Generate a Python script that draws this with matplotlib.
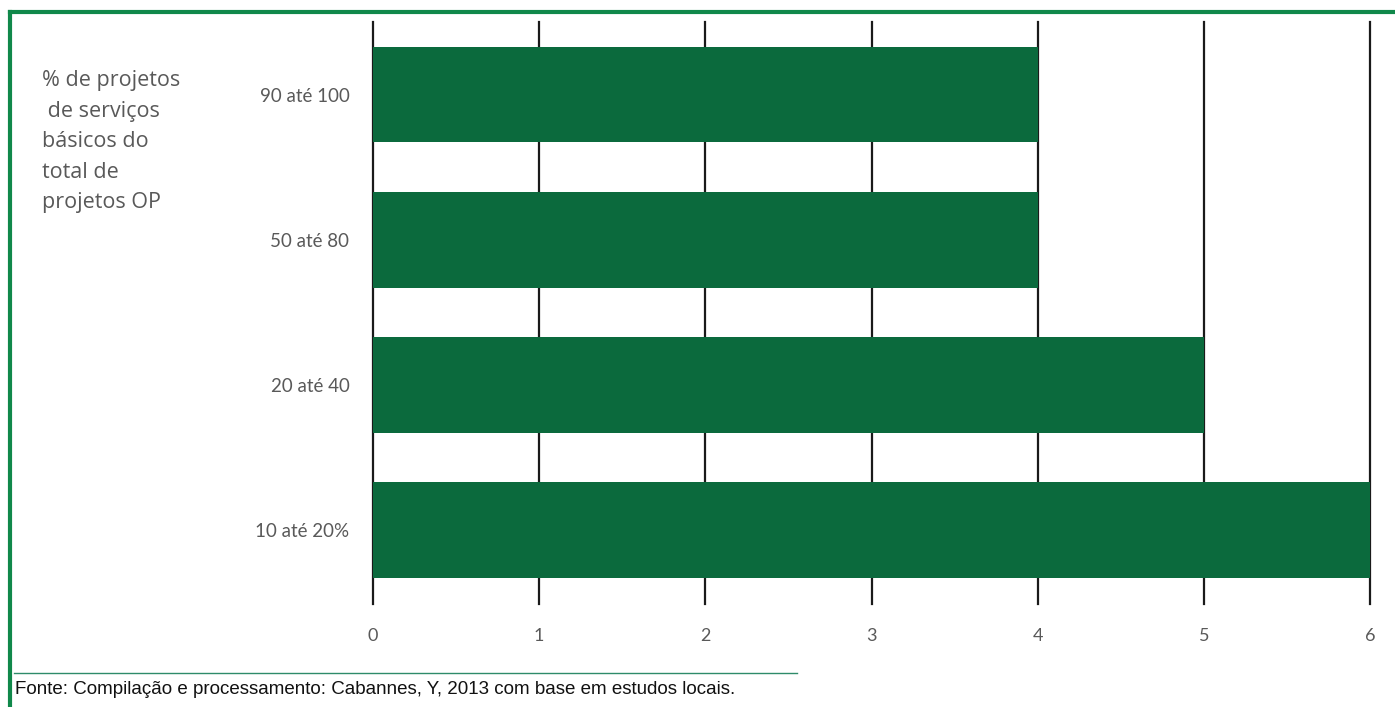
import matplotlib.pyplot as plt
from matplotlib.lines import Line2D

# Dados
categorias = ['10 até 20%', '20 até 40', '50 até 80', '90 até 100']
valores = [6, 5, 4, 4]
ticks_x = [0, 1, 2, 3, 4, 5, 6]

verde_barra = '#0B6A3D'
verde_borda = '#10884A'
cinza = '#595959'

plt.rcParams['font.family'] = ['Lato', 'DejaVu Sans']

fig = plt.figure(figsize=(13.95, 7.07), dpi=100)
W, H = 1395, 707
ax = fig.add_axes([373 / W, 1 - 604 / H, (1370 - 373) / W, (604 - 22) / H])

# grade vertical atrás das barras
for t in ticks_x:
    ax.axvline(t, color='#1a1a1a', linewidth=1.6, zorder=1, clip_on=False)

ax.barh(range(len(categorias)), valores, height=0.66, color=verde_barra, zorder=2)

ax.set_xlim(0, 6)
ax.set_ylim(-0.51, 3.5)
ax.set_xticks(ticks_x)
ax.set_xticklabels([str(t) for t in ticks_x], fontsize=13, color=cinza)
ax.set_yticks(range(len(categorias)))
ax.set_yticklabels(categorias, fontsize=13.5, color=cinza)
ax.tick_params(axis='both', length=0)
ax.tick_params(axis='x', pad=17)
ax.tick_params(axis='y', pad=17)

for s in ax.spines.values():
    s.set_visible(False)

# rótulo do eixo vertical
fig.text(42 / W, 1 - 70 / H,
         '% de projetos\n de serviços\nbásicos do\ntotal de\nprojetos OP',
         fontsize=15.5, color=cinza, va='top', ha='left', linespacing=1.6,
         family=['Open Sans', 'DejaVu Sans'])

# moldura verde (topo e esquerda)
fig.add_artist(Line2D([10 / W, 1], [1 - 12 / H, 1 - 12 / H], color=verde_borda, linewidth=3))
fig.add_artist(Line2D([10 / W, 10 / W], [0, 1 - 12 / H], color=verde_borda, linewidth=3))

# linha da fonte
fig.add_artist(Line2D([14 / W, 797 / W], [1 - 673 / H, 1 - 673 / H], color='#2E8B6A', linewidth=1))
fig.text(15 / W, 1 - 690 / H,
         'Fonte: Compilação e processamento: Cabannes, Y, 2013 com base em estudos locais.',
         fontsize=13.5, family=['Liberation Sans', 'DejaVu Sans'], color='#111111', va='center', ha='left')

fig.savefig('out.png', dpi=100)
